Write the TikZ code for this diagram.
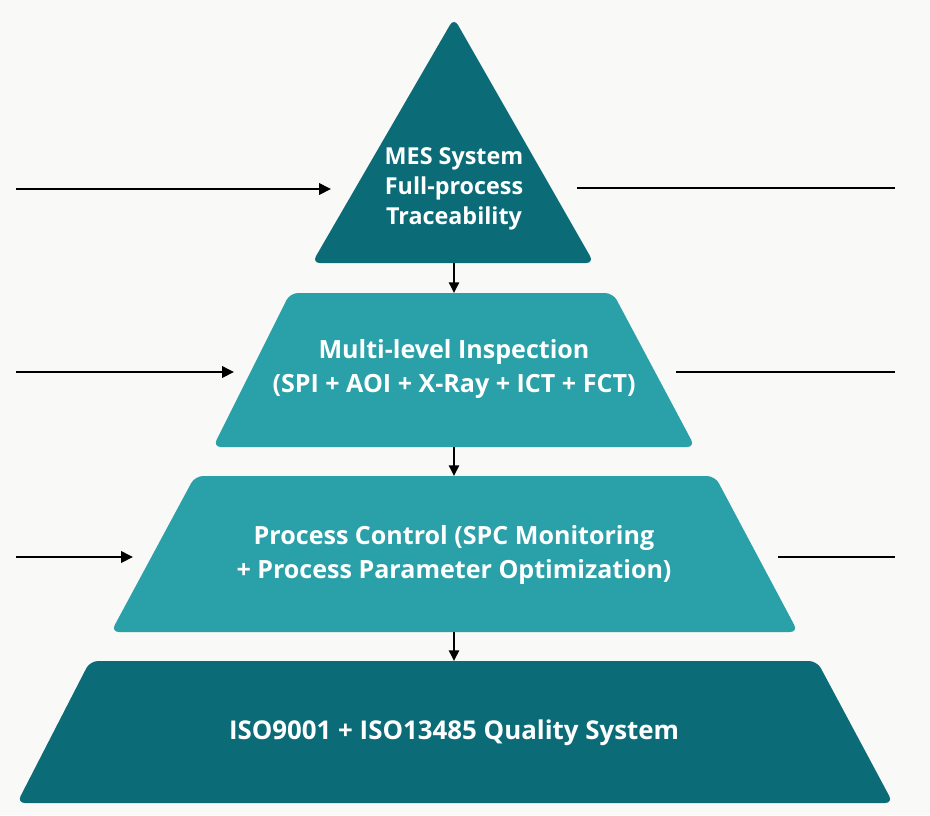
\documentclass[tikz,border=0pt]{standalone}
\usepackage{fontspec}
\setmainfont{Open Sans}
\usetikzlibrary{arrows.meta}

\definecolor{tealdark}{HTML}{0B6C78}
\definecolor{teallight}{HTML}{2AA0A8}
\definecolor{paper}{HTML}{F9F9F7}

\tikzset{
  layer/.style={rounded corners=6pt},
  lvltext/.style={text=white, align=center, font=\bfseries\fontsize{18.8}{25.5}\selectfont},
  feed/.style={line width=2pt, -{Triangle[length=9pt,width=8.5pt]}},
  drop/.style={line width=1.8pt, -{Triangle[length=8pt,width=7.5pt]}},
  link/.style={line width=2pt},
}

\begin{document}
\begin{tikzpicture}[x=0.75pt,y=-0.75pt]
            \fill [paper] (0,0) rectangle (930,815);
            \useasboundingbox (0,0) rectangle (930,815);

            % pyramid layers
            \fill [tealdark, layer] (454,18) -- (594,263) -- (312,263) -- cycle;
            \fill [teallight, layer] (290,293) -- (613,293) -- (695,447) -- (213,447) -- cycle;
            \fill [teallight, layer] (195,476) -- (715,476) -- (798,632) -- (111,632) -- cycle;
            \fill [tealdark, layer] (90,661) -- (817,661) -- (893,803) -- (17,803) -- cycle;

            \node [lvltext, font=\bfseries\fontsize{17.5}{22.5}\selectfont] (mes) at (454,189) {MES System\\Full-process\\Traceability};
            \node [lvltext] (insp) at (454,369) {Multi-level Inspection\\(SPI + AOI + X-Ray + ICT + FCT)};
            \node [lvltext] (proc) at (454,555) {Process Control (SPC Monitoring\\+ Process Parameter Optimization)};
            \node [lvltext, font=\bfseries\fontsize{19.4}{25.5}\selectfont] (iso) at (454,733) {ISO9001 + ISO13485 Quality System};

            % layer edges
            \coordinate (mes-b) at (454,263);
            \coordinate (insp-t) at (454,293);
            \coordinate (insp-b) at (454,447);
            \coordinate (proc-t) at (454,476);
            \coordinate (proc-b) at (454,632);
            \coordinate (iso-t) at (454,661);

            \draw [drop] (mes-b) -- (insp-t);
            \draw [drop] (insp-b) -- (proc-t);
            \draw [drop] (proc-b) -- (iso-t);

            % side lines
            \coordinate (inA) at (16,189);   \coordinate (inA-e) at (331,189);
            \coordinate (inB) at (16,372);   \coordinate (inB-e) at (234,372);
            \coordinate (inC) at (16,557);   \coordinate (inC-e) at (133,557);
            \coordinate (outA) at (577,188); \coordinate (outA-e) at (895,188);
            \coordinate (outB) at (676,372); \coordinate (outB-e) at (895,372);
            \coordinate (outC) at (778,557); \coordinate (outC-e) at (895,557);

            \draw [feed] (inA) -- (inA-e);
            \draw [feed] (inB) -- (inB-e);
            \draw [feed] (inC) -- (inC-e);
            \draw [link] (outA) -- (outA-e);
            \draw [link] (outB) -- (outB-e);
            \draw [link] (outC) -- (outC-e);
        \end{tikzpicture}
\end{document}
